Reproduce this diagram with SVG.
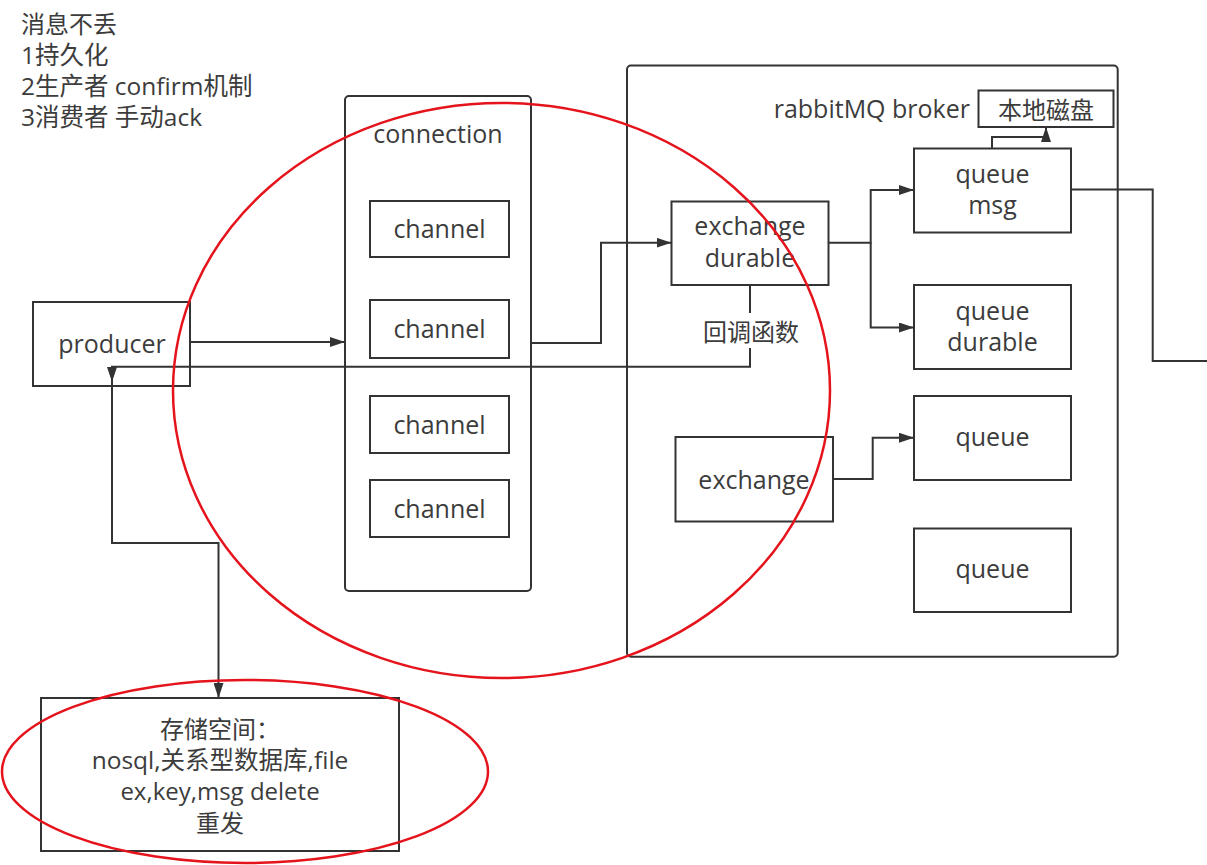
<svg xmlns="http://www.w3.org/2000/svg" width="1207" height="865" viewBox="0 0 1207 865">
<defs>
<marker id="arr" markerUnits="userSpaceOnUse" markerWidth="15" markerHeight="10" refX="15" refY="5" orient="auto" viewBox="0 0 15 10">
<path d="M0,0 L15,5 L0,10 Z" fill="#333"/>
</marker>
<style>
.box{fill:#fff;stroke:#333;stroke-width:2}
.frame{fill:none;stroke:#333;stroke-width:2}
.t{font-family:"Open Sans","Noto Sans CJK SC",sans-serif;font-size:24px;fill:#3c3c3c}
.l{font-size:25px}
.m{font-size:24.5px}
.c{text-anchor:middle}
.ln{fill:none;stroke:#333;stroke-width:2}
.red{fill:none;stroke:#e5141c;stroke-width:2.5}
</style>
</defs>
<rect width="1207" height="865" fill="#fff"/>

<g id="notes">
<text class="t" x="21" y="33">消息不丢<tspan class="m" x="21" y="64">1持久化</tspan><tspan class="m" x="21" y="95">2生产者 confirm机制</tspan><tspan class="m" x="21" y="126">3消费者 手动ack</tspan></text>
</g>

<g id="broker">
<rect class="frame" x="627" y="65.5" width="490.7" height="591.2" rx="4"/>
<text class="t l" x="970" y="118" text-anchor="end">rabbitMQ broker</text>
</g>

<g id="connection">
<rect class="frame" x="345" y="96" width="186" height="495" rx="4"/>
<text class="t l c" x="438" y="143">connection</text>
</g>

<g id="disk">
<rect class="box" x="978.5" y="90.5" width="135" height="36.5"/>
<text class="t c" x="1046" y="118.5">本地磁盘</text>
</g>

<g id="channel1">
<rect class="box" x="370" y="201" width="139" height="56"/>
<text class="t l c" x="439.5" y="238">channel</text>
</g>
<g id="channel2">
<rect class="box" x="370" y="300" width="139" height="58"/>
<text class="t l c" x="439.5" y="338">channel</text>
</g>
<g id="channel3">
<rect class="box" x="370" y="396" width="139" height="57"/>
<text class="t l c" x="439.5" y="433.5">channel</text>
</g>
<g id="channel4">
<rect class="box" x="370" y="480" width="139" height="57"/>
<text class="t l c" x="439.5" y="517.5">channel</text>
</g>

<g id="producer">
<rect class="box" x="33" y="302" width="157" height="84"/>
<text class="t l c" x="112" y="353">producer</text>
</g>

<g id="exchange-durable">
<rect class="box" x="671.5" y="201.5" width="157" height="83.5"/>
<text class="t l c" x="750" y="235">exchange<tspan x="750" y="266.5">durable</tspan></text>
</g>

<g id="exchange">
<rect class="box" x="675.5" y="437" width="157.5" height="84.5"/>
<text class="t l c" x="754" y="489">exchange</text>
</g>

<g id="queue-msg">
<rect class="box" x="914" y="148.5" width="157" height="84"/>
<text class="t l c" x="992.5" y="183">queue<tspan x="992.5" y="214">msg</tspan></text>
</g>

<g id="queue-durable">
<rect class="box" x="914" y="285" width="157" height="84"/>
<text class="t l c" x="992.5" y="320">queue<tspan x="992.5" y="351">durable</tspan></text>
</g>

<g id="queue1">
<rect class="box" x="914" y="396" width="157" height="84"/>
<text class="t l c" x="992.5" y="446">queue</text>
</g>

<g id="queue2">
<rect class="box" x="914" y="528.5" width="157" height="83.5"/>
<text class="t l c" x="992.5" y="578">queue</text>
</g>

<g id="storage">
<rect class="box" x="41" y="698" width="358" height="153"/>
<text class="t c" x="220" y="737.5">存储空间：<tspan class="m" x="220" y="768.5">nosql,关系型数据库,file</tspan><tspan x="220" y="800">ex,key,msg delete</tspan><tspan x="220" y="832">重发</tspan></text>
</g>

<g id="connectors">
<path class="ln" d="M190,342 H345" marker-end="url(#arr)"/>
<path class="ln" d="M531,343 H601 V242.7 H671.5" marker-end="url(#arr)"/>
<path class="ln" d="M828.5,242.7 H870.7 V190 H914" marker-end="url(#arr)"/>
<path class="ln" d="M870.7,242.7 V327.5 H914" marker-end="url(#arr)"/>
<path class="ln" d="M833,479 H872.7 V437.7 H914" marker-end="url(#arr)"/>
<path class="ln" d="M992,148.5 V137 H1046 V127" marker-end="url(#arr)"/>
<path class="ln" d="M1071,189.5 H1152.7 V361 H1207"/>
<path class="ln" d="M750,285 V366.7 H112 V382" marker-end="url(#arr)"/>
<path class="ln" d="M112,382 V543 H218.5 V698" marker-end="url(#arr)"/>
<rect x="701" y="313" width="100" height="35" fill="#fff"/>
<text class="t c" x="751" y="341">回调函数</text>
</g>

<g id="highlights">
<ellipse class="red" cx="501.5" cy="390.5" rx="328.5" ry="287.5"/>
<ellipse class="red" cx="245" cy="771.5" rx="243" ry="91.5"/>
</g>
</svg>
